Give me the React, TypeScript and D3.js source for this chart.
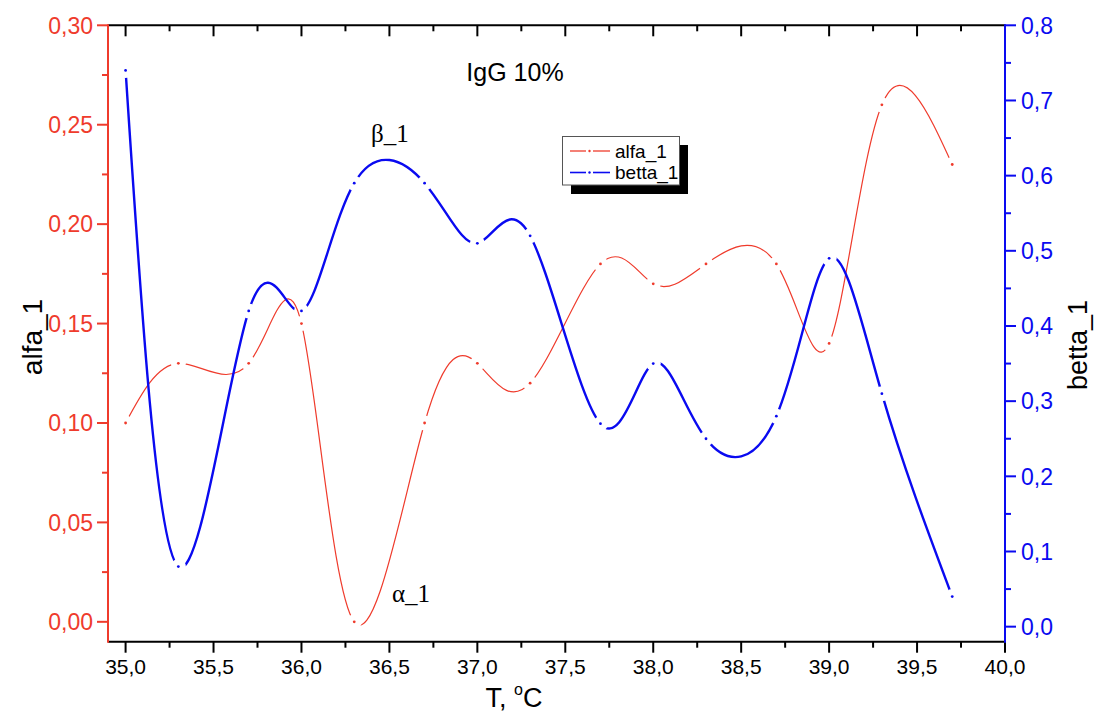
import React from "react";
import * as d3 from "d3";

// Measured temperatures and the two fitted parameters
const temperatures = [35.0, 35.3, 35.7, 36.0, 36.3, 36.7, 37.0, 37.3, 37.7, 38.0, 38.3, 38.7, 39.0, 39.3, 39.7];
const alfa1 = [0.1, 0.13, 0.13, 0.15, 0.0, 0.1, 0.13, 0.12, 0.18, 0.17, 0.18, 0.18, 0.14, 0.26, 0.23];
const betta1 = [0.74, 0.08, 0.42, 0.42, 0.59, 0.59, 0.51, 0.52, 0.27, 0.35, 0.25, 0.28, 0.49, 0.31, 0.04];

const xMajorTicks = [35, 35.5, 36, 36.5, 37, 37.5, 38, 38.5, 39, 39.5, 40];
const xMinorTicks = [35.25, 35.75, 36.25, 36.75, 37.25, 37.75, 38.25, 38.75, 39.25, 39.75];
const alfaMajorTicks = [0, 0.05, 0.1, 0.15, 0.2, 0.25, 0.3];
const alfaMinorTicks = [0.025, 0.075, 0.125, 0.175, 0.225, 0.275];
const bettaMajorTicks = [0, 0.1, 0.2, 0.3, 0.4, 0.5, 0.6, 0.7, 0.8];
const bettaMinorTicks = [0.05, 0.15, 0.25, 0.35, 0.45, 0.55, 0.65, 0.75];

const W = 1095;
const H = 716;
const left = 108;
const right = 1005;
const top = 25.3;
const bottom = 641.7;

const RED = "#ef3b2c";
const BLUE = "#0a0af0";
const FONT = "'Liberation Sans', Arial, sans-serif";
const SERIF = "'Liberation Serif', 'Times New Roman', serif";

const locale = d3.formatLocale({ decimal: ",", thousands: ".", grouping: [3], currency: ["", ""] });
const f1 = locale.format(".1f");
const f2 = locale.format(".2f");

const x = d3.scaleLinear().domain([34.9, 40]).range([left, right]);
const yA = d3.scaleLinear().domain([-0.01, 0.3]).range([bottom, top]);
const yB = d3.scaleLinear().domain([-0.02, 0.8]).range([bottom, top]);

type Pt = [number, number];
const alfaPts: Pt[] = temperatures.map((t, i) => [x(t), yA(alfa1[i])]);
const bettaPts: Pt[] = temperatures.map((t, i) => [x(t), yB(betta1[i])]);

const spline = d3.line<Pt>().x((d) => d[0]).y((d) => d[1]).curve(d3.curveNatural);

const GAP = 7.5;

function Series({ id, pts, color, width }: { id: string; pts: Pt[]; color: string; width: number }) {
  return (
    <g>
      <mask id={id} maskUnits="userSpaceOnUse" x={0} y={0} width={W} height={H}>
        <rect x={0} y={0} width={W} height={H} fill="white" />
        {pts.map((p, i) => (
          <circle key={i} cx={p[0]} cy={p[1]} r={GAP} fill="black" />
        ))}
      </mask>
      <path d={spline(pts) || ""} fill="none" stroke={color} strokeWidth={width} mask={`url(#${id})`} />
      {pts.map((p, i) => (
        <circle key={i} cx={p[0]} cy={p[1]} r={1.4} fill={color} />
      ))}
    </g>
  );
}

function LegendItem({ y, color, width, label }: { y: number; color: string; width: number; label: string }) {
  return (
    <g>
      <line x1={570} x2={586} y1={y} y2={y} stroke={color} strokeWidth={width} />
      <line x1={593} x2={610} y1={y} y2={y} stroke={color} strokeWidth={width} />
      <circle cx={589.5} cy={y} r={1.2} fill={color} />
      <text x={615} y={y} dy="0.36em" fontSize={19} fontFamily={FONT} fill="#000">
        {label}
      </text>
    </g>
  );
}

export default function App() {
  return (
    <svg
      width={W}
      height={H}
      viewBox={`0 0 ${W} ${H}`}
      style={{ position: "absolute", left: 0, top: 0, background: "#fff" }}
    >
      <rect x={0} y={0} width={W} height={H} fill="#fff" />

      {/* frame: top and bottom in black */}
      <line x1={left} x2={right} y1={top} y2={top} stroke="#000" strokeWidth={2} />
      <line x1={left} x2={right} y1={bottom} y2={bottom} stroke="#000" strokeWidth={2} />

      {/* bottom axis ticks and labels */}
      {xMajorTicks.map((t) => (
        <g key={`xb${t}`}>
          <line x1={x(t)} x2={x(t)} y1={bottom} y2={bottom + 11} stroke="#000" strokeWidth={2} />
          <line x1={x(t)} x2={x(t)} y1={top} y2={top + 11} stroke="#000" strokeWidth={2} />
          <text x={x(t)} y={674} textAnchor="middle" fontSize={21} fontFamily={FONT} fill="#000">
            {f1(t)}
          </text>
        </g>
      ))}
      {xMinorTicks.map((t) => (
        <g key={`xm${t}`}>
          <line x1={x(t)} x2={x(t)} y1={bottom} y2={bottom + 6} stroke="#000" strokeWidth={2} />
          <line x1={x(t)} x2={x(t)} y1={top} y2={top + 6} stroke="#000" strokeWidth={2} />
        </g>
      ))}

      {/* left axis (alfa_1) */}
      <line x1={left} x2={left} y1={top - 1} y2={bottom + 1} stroke={RED} strokeWidth={2} />
      {alfaMajorTicks.map((t) => (
        <g key={`ya${t}`}>
          <line x1={left - 11} x2={left} y1={yA(t)} y2={yA(t)} stroke={RED} strokeWidth={2} />
          <text x={93} y={yA(t)} dy="0.36em" textAnchor="end" fontSize={23} fontFamily={FONT} fill={RED}>
            {f2(t)}
          </text>
        </g>
      ))}
      {alfaMinorTicks.map((t) => (
        <line key={`yam${t}`} x1={left - 6} x2={left} y1={yA(t)} y2={yA(t)} stroke={RED} strokeWidth={2} />
      ))}

      {/* right axis (betta_1) */}
      <line x1={right} x2={right} y1={top - 1} y2={bottom + 1} stroke={BLUE} strokeWidth={2} />
      {bettaMajorTicks.map((t) => (
        <g key={`yb${t}`}>
          <line x1={right} x2={right + 11} y1={yB(t)} y2={yB(t)} stroke={BLUE} strokeWidth={2} />
          <text x={1021} y={yB(t)} dy="0.36em" textAnchor="start" fontSize={23} fontFamily={FONT} fill={BLUE}>
            {f1(t)}
          </text>
        </g>
      ))}
      {bettaMinorTicks.map((t) => (
        <line key={`ybm${t}`} x1={right} x2={right + 6} y1={yB(t)} y2={yB(t)} stroke={BLUE} strokeWidth={2} />
      ))}

      {/* axis titles */}
      <text transform="translate(42,337) rotate(-90)" textAnchor="middle" fontSize={28} fontFamily={FONT} fill="#000">
        alfa_1
      </text>
      <text transform="translate(1087,345) rotate(-90)" textAnchor="middle" fontSize={27} fontFamily={FONT} fill="#000">
        betta_1
      </text>
      <text x={514} y={707} textAnchor="middle" fontSize={27} fontFamily={FONT} fill="#000">
        T,{" "}
        <tspan fontSize={16} dy={-12}>
          o
        </tspan>
        <tspan dy={12}>C</tspan>
      </text>

      {/* data */}
      <Series id="gap-alfa" pts={alfaPts} color={RED} width={1.2} />
      <Series id="gap-betta" pts={bettaPts} color={BLUE} width={2.4} />

      {/* annotations */}
      <text x={515} y={81} textAnchor="middle" fontSize={25} fontFamily={FONT} fill="#000">
        IgG 10%
      </text>
      <text x={371} y={142} fontSize={25} fontFamily={SERIF} fill="#000">
        β_1
      </text>
      <text x={392} y={602} fontSize={25} fontFamily={SERIF} fill="#000">
        α_1
      </text>

      {/* legend */}
      <rect x={571} y={145} width={117} height={49} fill="#000" />
      <rect x={562.5} y={136.5} width={117} height={48.5} fill="#fff" stroke="#555" strokeWidth={1} />
      <LegendItem y={151} color={RED} width={1.3} label="alfa_1" />
      <LegendItem y={172.5} color={BLUE} width={1.6} label="betta_1" />
    </svg>
  );
}
